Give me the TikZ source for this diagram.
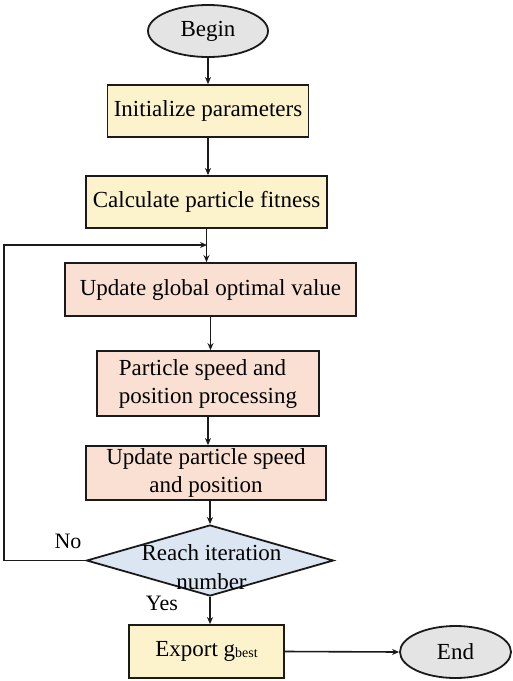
\documentclass[tikz,border=0pt]{standalone}
\usepackage{fontspec}
\setmainfont{Liberation Serif}
\usetikzlibrary{shapes.geometric,arrows.meta}
\definecolor{lineC}{HTML}{1A1A1A}
\definecolor{grayF}{HTML}{E4E4E4}
\definecolor{yellowF}{HTML}{FCF2CB}
\definecolor{salmonF}{HTML}{FAE0D2}
\definecolor{blueF}{HTML}{DCE6F3}
\tikzset{
  base/.style={draw=lineC, line width=1.8pt, inner sep=0pt, font=\fontsize{23}{28}\selectfont, text=black},
  term/.style={base, ellipse, fill=grayF},
  ybox/.style={base, rectangle, fill=yellowF},
  sbox/.style={base, rectangle, fill=salmonF},
  dec/.style={base, diamond, fill=blueF},
  arr/.style={draw=lineC, line width=1.6pt, -{Stealth[length=7pt,width=6pt]}},
  lbl/.style={font=\fontsize{22}{26}\selectfont, text=black}
}
\begin{document}
\begin{tikzpicture}[x=1pt,y=-1pt]
\useasboundingbox (0,0) rectangle (513,681);
\node[term, minimum width=120pt, minimum height=52pt] (begin) at (208,31) {Begin};
\node[ybox, minimum width=201pt, minimum height=52pt] (init) at (208,111) {Initialize parameters};
\node[ybox, minimum width=241pt, minimum height=52pt] (calc) at (206.5,202) {Calculate particle fitness};
\node[sbox, minimum width=291pt, minimum height=53pt] (glob) at (210.5,289.5) {Update global optimal value};
\node[sbox, minimum width=222pt, minimum height=65pt, align=left] (proc) at (208,383.5) {Particle speed and\\position processing};
\node[sbox, minimum width=240pt, minimum height=54pt, align=center] (upd) at (206,473) {Update particle speed\\and position};
\node[dec, minimum width=247pt, minimum height=71pt] (dec) at (210,560.5) {};
\node[font=\fontsize{23}{29}\selectfont, align=center, inner sep=0pt] (dect) at (211.5,567) {Reach iteration\\number};
\node[ybox, minimum width=155pt, minimum height=53pt] (exp) at (206.5,651.5) {Export g\raisebox{-1pt}{\fontsize{14}{14}\selectfont best}};
\node[term, minimum width=111pt, minimum height=52pt] (end) at (455.5,652) {End};
\node[lbl] (no) at (68,541) {No};
\node[lbl] (yes) at (162,603) {Yes};
\coordinate (fb) at (4,245);
\coordinate (join) at (207,245);

\draw[arr] (begin.south) -- (begin.south |- init.north);
\draw[arr] (init.south) -- (init.south |- calc.north);
\draw[arr] (calc.south) -- (calc.south |- glob.north);
\draw[arr] (glob.south) -- (glob.south |- proc.north);
\draw[arr] (proc.south) -- (proc.south |- upd.north);
\draw[arr] (dec.north |- upd.south) -- (dec.north);
\draw[arr] (dec.south) -- (dec.south |- exp.north);
\draw[arr] (exp.east) -- (end.west);
\draw[arr] (dec.west) -| (fb) -- (join);
\end{tikzpicture}
\end{document}
